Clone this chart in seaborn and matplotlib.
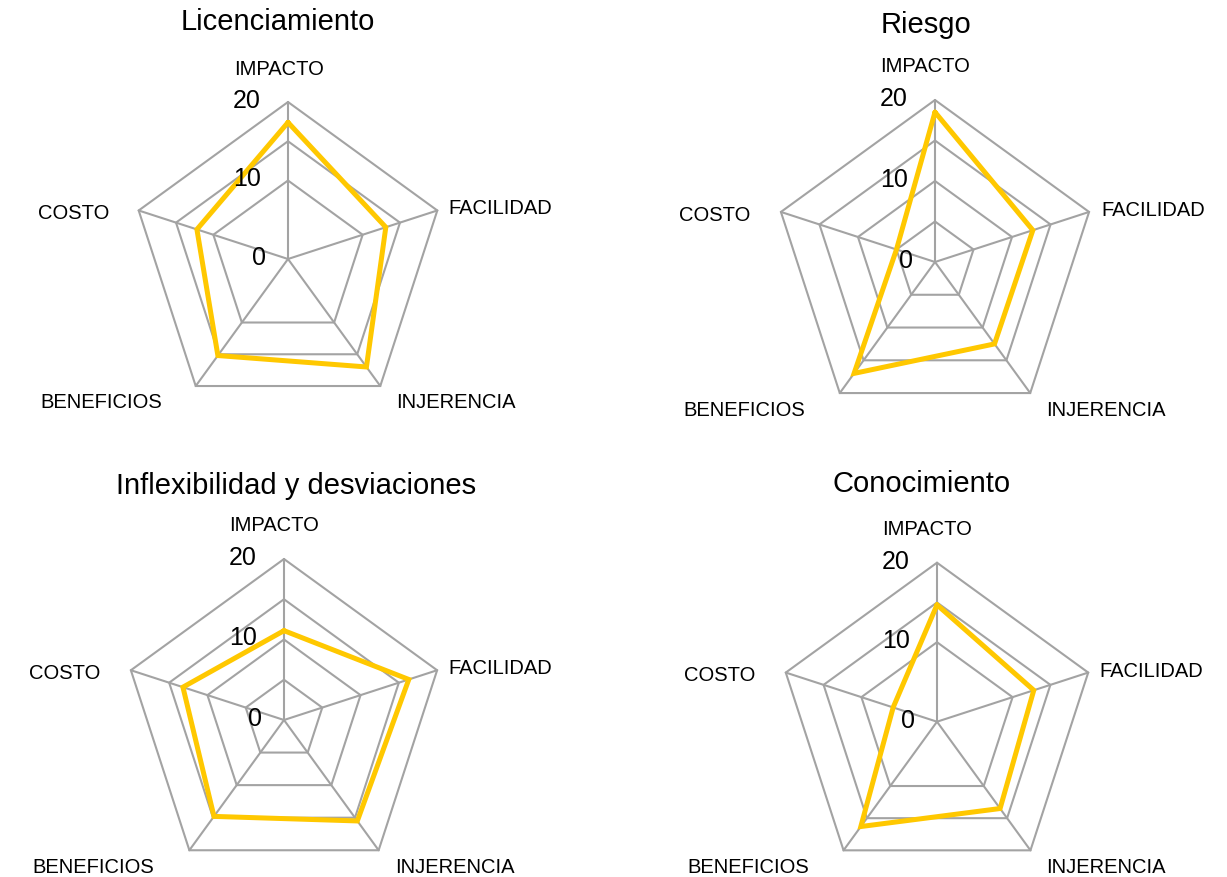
import numpy as np
import matplotlib
matplotlib.use("Agg")
import matplotlib.pyplot as plt
import seaborn as sns
import pandas as pd

# Criteria (radar axes) and the scores for each dimension
categories = ["IMPACTO", "FACILIDAD", "INJERENCIA", "BENEFICIOS", "COSTO"]
licenciamiento = [17.4, 13.1, 17.0, 15.2, 12.2]
riesgo = [18.5, 12.7, 12.5, 17.0, 5.0]
inflexibilidad = [11.1, 16.3, 15.5, 14.8, 13.2]
conocimiento = [14.7, 12.8, 13.5, 16.3, 5.8]

titles = ["Licenciamiento", "Riesgo", "Inflexibilidad y desviaciones", "Conocimiento"]
series = [licenciamiento, riesgo, inflexibilidad, conocimiento]
ring_levels = [[10, 15, 20], [5, 10, 15, 20], [5, 10, 15, 20], [10, 15, 20]]
tick_values = [0, 10, 20]
r_max = 20

sns.set_theme(style="white")
plt.rcParams["font.family"] = ["Liberation Sans", "DejaVu Sans"]

W, H = 1227, 878
fig = plt.figure(figsize=(W / 100, H / 100), dpi=100)
fig.patch.set_facecolor("white")

# chart centre and radius in pixels, title anchor in pixels
centres = [(288, 260, 157), (935, 263, 162), (284, 721, 161), (937, 722.7, 159)]
title_pos = [(278, 22), (926, 25), (296, 486), (922, 484)]

grid_color = "#A3A3A3"
line_color = "#FFC800"

n = len(categories)
angles = np.arange(n) * 2 * np.pi / n
closed_angles = np.append(angles, 2 * np.pi)

# axis label placement in axes fraction: (x, y, ha)
label_pos = [
    (0.470, 1.108, "center"),
    (1.012, 0.6625, "left"),
    (0.844, 0.045, "left"),
    (0.098, 0.045, "right"),
    (-0.070, 0.648, "right"),
]

for i, (title, vals) in enumerate(zip(titles, series)):
    cx, cy, R = centres[i]
    left = (cx - R) / W
    bottom = (H - (cy + R)) / H
    ax = fig.add_axes([left, bottom, 2 * R / W, 2 * R / H], projection="polar")
    ax.set_theta_zero_location("N")
    ax.set_theta_direction(-1)
    ax.set_rlim(0, r_max)
    ax.grid(False)
    ax.spines["polar"].set_visible(False)
    ax.set_xticks([])
    ax.set_yticks([])
    ax.set_facecolor("none")

    # pentagon rings
    for lvl in ring_levels[i]:
        ax.plot(closed_angles, [lvl] * (n + 1), color=grid_color, lw=1.5,
                clip_on=False, zorder=1, solid_joinstyle="miter")
    # spokes
    for a in angles:
        ax.plot([a, a], [0, r_max], color=grid_color, lw=1.5, clip_on=False, zorder=1)

    # data polygon (closed back to the first criterion)
    df = pd.DataFrame({"theta": closed_angles, "score": list(vals) + [vals[0]]})
    sns.lineplot(data=df, x="theta", y="score", ax=ax, sort=False, estimator=None,
                 color=line_color, lw=3.6, zorder=3, clip_on=False,
                 solid_joinstyle="miter")
    ax.set_xlabel("")
    ax.set_ylabel("")
    ax.set_rlim(0, r_max)

    # value scale labels along the IMPACTO spoke
    for v in tick_values:
        xoff = 22 if v == 0 else 27
        ax.text(0.5 - xoff / (2 * R), 0.5 + 0.5 * v / r_max + 2 / (2 * R), str(v),
                transform=ax.transAxes, ha="right", va="center", fontsize=18,
                color="black", zorder=4)

    # category labels
    for cat, (lx, ly, ha) in zip(categories, label_pos):
        ax.text(lx, ly, cat, transform=ax.transAxes, ha=ha, va="center",
                fontsize=14.5, color="black")

    tx, ty = title_pos[i]
    fig.text(tx / W, 1 - ty / H, title, ha="center", va="center",
             fontsize=21, color="black")

fig.savefig("out.png", dpi=100, facecolor="white")
